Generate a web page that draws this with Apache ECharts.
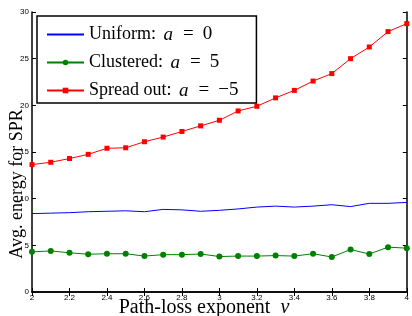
<!DOCTYPE html>
<html>
<head>
<meta charset="utf-8">
<script src="https://cdn.jsdelivr.net/npm/echarts@6/dist/echarts.min.js"></script>
<style>
  html, body { margin: 0; padding: 0; background: #fff; }
  #chart { width: 412px; height: 316px; }
</style>
</head>
<body>
<div id="chart"></div>
<script>
// path-loss exponent values (x axis)
const nu = [2, 2.1, 2.2, 2.3, 2.4, 2.5, 2.6, 2.7, 2.8, 2.9, 3, 3.1, 3.2, 3.3, 3.4, 3.5, 3.6, 3.7, 3.8, 3.9, 4];

// avg. energy for SPR
const uniform = [8.4, 8.45, 8.5, 8.6, 8.65, 8.7, 8.6, 8.85, 8.8, 8.65, 8.75, 8.9, 9.1, 9.2, 9.1, 9.2, 9.35, 9.15, 9.5, 9.5, 9.6];
const clustered = [4.3, 4.4, 4.2, 4.05, 4.1, 4.1, 3.85, 4.0, 4.0, 4.07, 3.8, 3.85, 3.85, 3.9, 3.85, 4.1, 3.75, 4.55, 4.07, 4.8, 4.7];
const spreadOut = [13.65, 13.9, 14.3, 14.75, 15.4, 15.45, 16.1, 16.6, 17.2, 17.8, 18.4, 19.4, 19.9, 20.8, 21.6, 22.6, 23.4, 25.0, 26.25, 27.9, 28.75];

const legendNames = ['Uniform', 'Clustered', 'Spread out'];
const legendLabels = {
  'Uniform': '{n|Uniform: }{a|a}{e|=}{v|0}',
  'Clustered': '{n|Clustered: }{a|a}{e|=}{v|5}',
  'Spread out': '{n|Spread out: }{a|a}{e|=}{v|\u22125}'
};

const pairs = (vals) => vals.map((v, i) => [nu[i], v]);

const chart = echarts.init(document.getElementById('chart'));

const tickLabel = { fontFamily: 'Liberation Sans', fontSize: 8, color: '#000' };
const axisLine = { show: true, lineStyle: { color: '#000', width: 1.5 } };
const axisTick = { show: true, inside: true, length: 4, lineStyle: { color: '#000', width: 1 } };
const serif = 'Liberation Serif';

chart.setOption({
  animation: false,
  grid: { left: 32, right: 2, top: 12, bottom: 24, containLabel: false },
  xAxis: [
    {
      type: 'value', min: 2, max: 4, interval: 0.2, position: 'bottom',
      axisLine: axisLine, axisTick: axisTick, splitLine: { show: false },
      axisLabel: Object.assign({ margin: 2 }, tickLabel)
    },
    {
      type: 'value', min: 2, max: 4, interval: 0.2, position: 'top',
      axisLine: axisLine, axisTick: axisTick, splitLine: { show: false },
      axisLabel: { show: false }
    }
  ],
  yAxis: [
    {
      type: 'value', min: 0, max: 30, interval: 5, position: 'left',
      axisLine: axisLine, axisTick: axisTick, splitLine: { show: false },
      axisLabel: Object.assign({ margin: 3 }, tickLabel)
    },
    {
      type: 'value', min: 0, max: 30, interval: 5, position: 'right',
      axisLine: axisLine, axisTick: axisTick, splitLine: { show: false },
      axisLabel: { show: false }
    }
  ],
  legend: {
    data: [
      { name: 'Uniform', itemStyle: { opacity: 0 } },
      { name: 'Clustered' },
      { name: 'Spread out' }
    ],
    orient: 'vertical',
    left: 37,
    top: 16,
    padding: [9, 18, 3, 9],
    itemGap: 9,
    itemWidth: 37,
    itemHeight: 7,
    borderColor: '#000',
    borderWidth: 1.5,
    backgroundColor: '#fff',
    formatter: (name) => legendLabels[name],
    textStyle: {
      rich: {
        n: { fontFamily: serif, fontSize: 18, color: '#000', lineHeight: 20 },
        a: { fontFamily: serif, fontSize: 19, fontStyle: 'italic', color: '#000', lineHeight: 20, padding: [0, 0, 0, 3] },
        e: { fontFamily: serif, fontSize: 19, color: '#000', lineHeight: 20, padding: [0, 9, 0, 10] },
        v: { fontFamily: serif, fontSize: 19, color: '#000', lineHeight: 20 }
      }
    }
  },
  graphic: [
    {
      type: 'text', x: 204, y: 298,
      style: {
        text: '{n|Path-loss exponent  }{i|\u03bd}',
        align: 'center', verticalAlign: 'top',
        rich: {
          n: { fontFamily: serif, fontSize: 20, fill: '#000' },
          i: { fontFamily: serif, fontSize: 20, fontStyle: 'italic', fill: '#000' }
        }
      }
    },
    {
      type: 'text', x: 17, y: 184, rotation: Math.PI / 2,
      style: {
        text: 'Avg. energy for SPR',
        font: '18px "Liberation Serif"', fill: '#000',
        align: 'center', verticalAlign: 'middle'
      }
    }
  ],
  series: [
    {
      name: 'Uniform', type: 'line', data: pairs(uniform),
      symbol: 'none', lineStyle: { color: '#0000ff', width: 1 }, itemStyle: { color: '#0000ff' }
    },
    {
      name: 'Clustered', type: 'line', data: pairs(clustered),
      symbol: 'circle', symbolSize: 6,
      lineStyle: { color: '#008000', width: 1 }, itemStyle: { color: '#008000' }
    },
    {
      name: 'Spread out', type: 'line', data: pairs(spreadOut),
      symbol: 'rect', symbolSize: 5,
      lineStyle: { color: '#ff0000', width: 1 }, itemStyle: { color: '#ff0000' }
    }
  ]
});
</script>
</body>
</html>
